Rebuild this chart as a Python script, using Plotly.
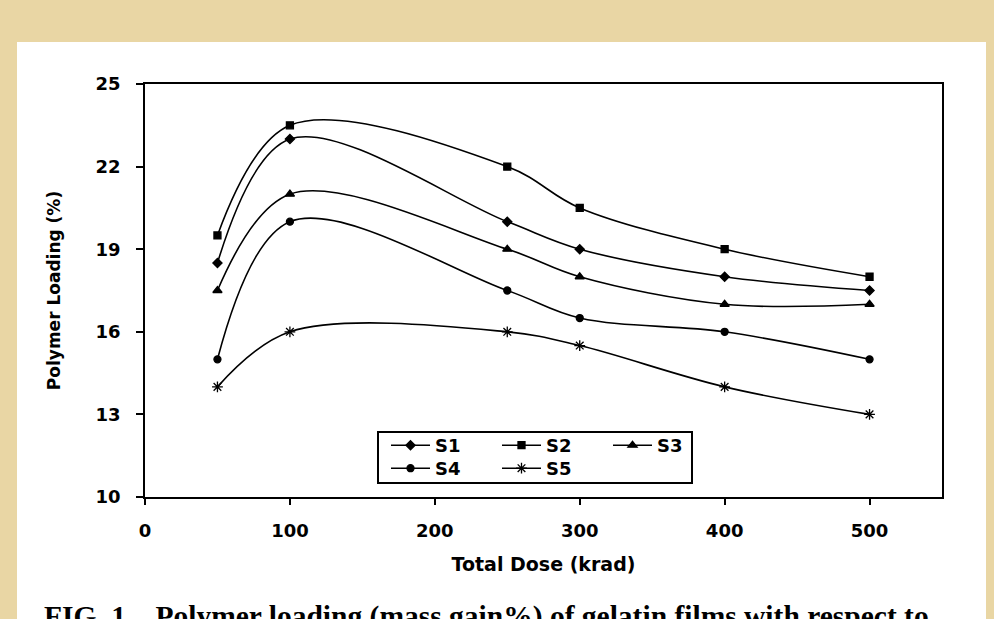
import plotly.graph_objects as go

dose = [50, 100, 250, 300, 400, 500]
s1 = [18.5, 23.0, 20.0, 19.0, 18.0, 17.5]
s2 = [19.5, 23.5, 22.0, 20.5, 19.0, 18.0]
s3 = [17.5, 21.0, 19.0, 18.0, 17.0, 17.0]
s4 = [15.0, 20.0, 17.5, 16.5, 16.0, 15.0]
s5 = [14.0, 16.0, 16.0, 15.5, 14.0, 13.0]

series = [
    ("S1", s1, "diamond", 7, "legend"),
    ("S2", s2, "square", 7, "legend"),
    ("S3", s3, "triangle-up", 8, "legend"),
    ("S4", s4, "circle", 7, "legend2"),
    ("S5", s5, "asterisk-open", 9, "legend2"),
]

W, H = 994, 619
L, R, T, B = 145, 52, 84, 122
pw, ph = W - L - R, H - T - B

def px_x(p):
    return (p - L) / pw

def px_y(p):
    return (H - B - p) / ph

fig = go.Figure()
for name, vals, sym, size, leg in series:
    fig.add_trace(go.Scatter(
        x=dose, y=vals, name=name, mode="lines+markers",
        line=dict(color="black", width=1.6, shape="spline", smoothing=1.0),
        marker=dict(symbol=sym, size=size, color="black",
                    line=dict(color="black", width=1.3)),
        legend=leg,
    ))

FAM = "DejaVu Sans, Liberation Sans, Arial"
tick_font = dict(family=FAM, size=18, color="black", weight=700)
leg_font = dict(family=FAM, size=18, color="black", weight=700)

fig.update_layout(
    width=W, height=H,
    margin=dict(l=L, r=R, t=T, b=B),
    paper_bgcolor="#E9D6A4",
    plot_bgcolor="white",
    font=dict(family=FAM, color="black"),
    xaxis=dict(
        range=[0, 550], tickvals=[0, 100, 200, 300, 400, 500],
        ticks="outside", ticklen=6, tickwidth=1.5, tickcolor="black",
        showline=True, linecolor="black", linewidth=1.8, mirror=True,
        showgrid=False, zeroline=False, tickfont=tick_font,
        ticklabelstandoff=10,
        title=dict(text="Total Dose (krad)", font=dict(family=FAM, size=19, color="black", weight=700), standoff=18),
    ),
    yaxis=dict(
        range=[10, 25], tickvals=[10, 13, 16, 19, 22, 25],
        ticks="outside", ticklen=7, tickwidth=1.5, tickcolor="black",
        showline=True, linecolor="black", linewidth=1.8, mirror=True,
        showgrid=False, zeroline=False, tickfont=tick_font,
        ticklabelstandoff=12,
        title=dict(text="Polymer Loading (%)", font=dict(family=FAM, size=17, color="black", weight=700), standoff=30),
    ),
    legend=dict(
        orientation="h", x=px_x(386), y=px_y(427), xanchor="left", yanchor="top",
        entrywidth=57, entrywidthmode="pixels", bgcolor="rgba(0,0,0,0)",
        borderwidth=0, font=leg_font, itemwidth=39, tracegroupgap=0,
    ),
    legend2=dict(
        orientation="h", x=px_x(386), y=px_y(450), xanchor="left", yanchor="top",
        entrywidth=57, entrywidthmode="pixels", bgcolor="rgba(0,0,0,0)",
        borderwidth=0, font=leg_font, itemwidth=39, tracegroupgap=0,
    ),
    shapes=[
        dict(type="rect", xref="paper", yref="paper", layer="below",
             x0=px_x(17), x1=px_x(986), y0=px_y(660), y1=px_y(42),
             fillcolor="white", line=dict(width=0)),
        dict(type="rect", xref="paper", yref="paper",
             x0=px_x(378), x1=px_x(692), y0=px_y(483), y1=px_y(432),
             fillcolor="rgba(0,0,0,0)", line=dict(color="black", width=2)),
    ],
    annotations=[
        dict(text="<b>FIG. 1.   Polymer loading (mass gain%) of gelatin films with respect to</b>",
             xref="paper", yref="paper", x=px_x(42), y=px_y(598),
             xanchor="left", yanchor="top", showarrow=False,
             font=dict(family="Liberation Serif, Times New Roman", size=29.5, color="black")),
    ],
)

fig.write_html("out.html")
